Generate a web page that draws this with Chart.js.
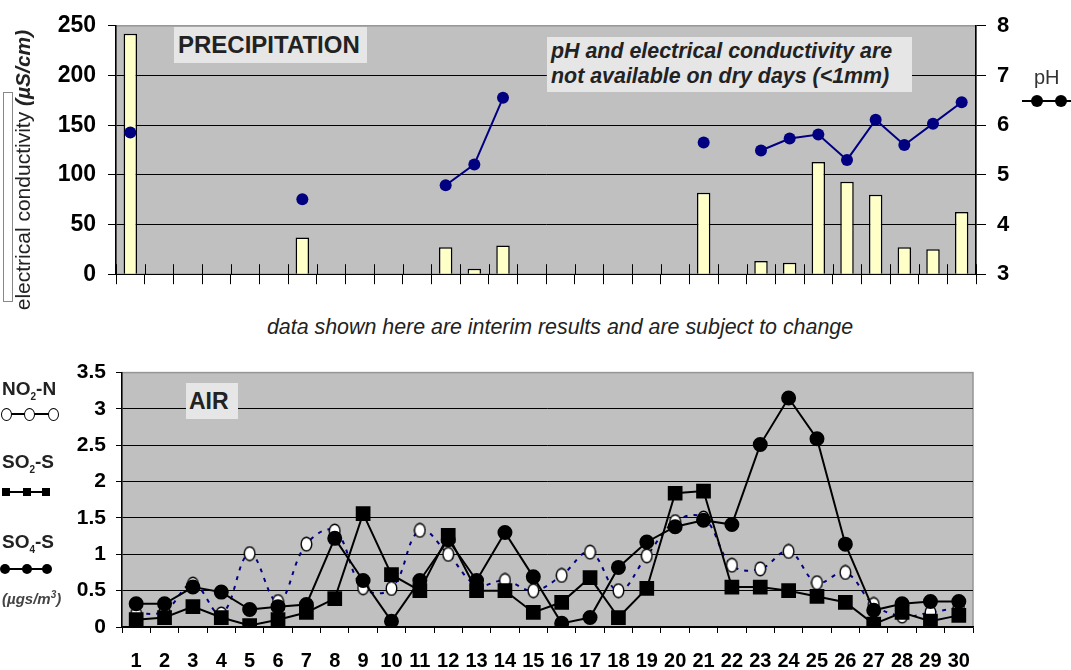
<!DOCTYPE html>
<html>
<head>
<meta charset="utf-8">
<script src="https://cdn.jsdelivr.net/npm/chart.js@4/dist/chart.umd.min.js"></script>
<style>
  body { margin: 0; background: #fff; font-family: 'Liberation Sans', Arial, sans-serif; }
  #wrap { position: relative; width: 1071px; height: 670px; overflow: hidden; }
  canvas { position: absolute; left: 0; }
  .box { position: absolute; background: #e6e6e7; color: #222; font-weight: bold; white-space: nowrap; }
  .txt { position: absolute; white-space: nowrap; color: #111; }
  .ln { position: absolute; height: 2px; background: #000; }
  .dot { position: absolute; border-radius: 50%; background: #000; }
  .sq { position: absolute; background: #000; }
  .oval { position: absolute; border-radius: 50%; background: #fff; border: 1.5px solid #000; box-sizing: border-box; }
</style>
</head>
<body>
<div id="wrap">
  <canvas id="rain" width="1071" height="300" style="top:0"></canvas>
  <canvas id="air" width="1071" height="320" style="top:350px"></canvas>

  <!-- top panel labels -->
  <div style="position:absolute;left:3px;top:92px;width:8px;height:208px;background:#fff;border:1px solid #888;"></div>
  <div class="txt" style="left:23px;top:170px;font-size:21px;color:#222;transform:translate(-50%,-50%) rotate(-90deg);">electrical conductivity <b><i>(µS/cm)</i></b></div>
  <div class="box" style="left:174px;top:27px;width:193px;height:36px;line-height:36px;font-size:24px;padding-left:4px;box-sizing:border-box;">PRECIPITATION</div>
  <div class="box" style="left:547px;top:37px;width:365px;height:55px;font-size:21.4px;font-style:italic;line-height:25px;padding:2px 0 0 4px;box-sizing:border-box;">pH and electrical conductivity are<br>not available on dry days (&lt;1mm)</div>
  <div class="txt" style="left:1034px;top:66px;font-size:20px;color:#333;">pH</div>
  <div class="ln" style="left:1022px;top:100px;width:49px;"></div>
  <div class="dot" style="left:1031px;top:95px;width:12px;height:12px;"></div>
  <div class="dot" style="left:1055px;top:95px;width:12px;height:12px;"></div>

  <div class="txt" style="left:560px;top:327px;transform:translate(-50%,-50%);font-size:21.4px;font-style:italic;color:#222;">data shown here are interim results and are subject to change</div>

  <!-- bottom panel labels -->
  <div class="box" style="left:186px;top:383px;width:52px;height:36px;line-height:36px;font-size:23px;padding-left:3px;box-sizing:border-box;">AIR</div>

  <div class="txt" style="left:2px;top:378px;font-size:19px;font-weight:bold;color:#222;">NO<sub style="font-size:10px;">2</sub>-N</div>
  <div class="ln" style="left:6px;top:413px;width:48px;"></div>
  <div class="oval" style="left:1px;top:408px;width:11px;height:13px;"></div>
  <div class="oval" style="left:24px;top:408px;width:11px;height:13px;"></div>
  <div class="oval" style="left:48px;top:408px;width:11px;height:13px;"></div>

  <div class="txt" style="left:2px;top:451px;font-size:19px;font-weight:bold;color:#222;">SO<sub style="font-size:10px;">2</sub>-S</div>
  <div class="ln" style="left:4px;top:491px;width:44px;"></div>
  <div class="sq" style="left:2px;top:488px;width:8px;height:8px;"></div>
  <div class="sq" style="left:23px;top:488px;width:8px;height:8px;"></div>
  <div class="sq" style="left:42px;top:488px;width:8px;height:8px;"></div>

  <div class="txt" style="left:2px;top:531px;font-size:19px;font-weight:bold;color:#222;">SO<sub style="font-size:10px;">4</sub>-S</div>
  <div class="ln" style="left:4px;top:568px;width:44px;"></div>
  <div class="dot" style="left:0px;top:564px;width:10px;height:10px;"></div>
  <div class="dot" style="left:22px;top:564px;width:10px;height:10px;"></div>
  <div class="dot" style="left:42px;top:564px;width:10px;height:10px;"></div>

  <div class="txt" style="left:2px;top:589px;font-size:15px;font-weight:bold;font-style:italic;color:#444;">(µgs/m<sup style="font-size:10px;">3</sup>)</div>
</div>

<script>
// days of the month
const days = ['1','2','3','4','5','6','7','8','9','10','11','12','13','14','15',
              '16','17','18','19','20','21','22','23','24','25','26','27','28','29','30'];

// precipitation panel
const conductivity = [242, null, null, null, null, null, 37, null, null, null, null, 27, 5.6, 29, null,
                      null, null, null, null, null, 82, null, 13.4, 11.4, 113, 93, 80, 27, 25, 62.5];
const phValues = [5.85, null, null, null, null, null, 4.51, null, null, null, null, 4.79, 5.21, 6.55, null,
                  null, null, null, null, null, 5.65, null, 5.49, 5.73, 5.81, 5.30, 6.11, 5.60, 6.03, 6.46];

// air panel (µgs/m3)
const no2 = [0.18, 0.22, 0.59, 0.18, 1.01, 0.35, 1.14, 1.32, 0.54, 0.53, 1.33, 1.00, 0.58, 0.64, 0.50,
             0.71, 1.03, 0.50, 0.98, 1.45, 1.50, 0.85, 0.80, 1.04, 0.61, 0.75, 0.31, 0.15, 0.20, 0.27];
const so2 = [0.10, 0.13, 0.28, 0.13, 0.02, 0.10, 0.20, 0.39, 1.56, 0.72, 0.50, 1.26, 0.50, 0.50, 0.20,
             0.34, 0.68, 0.13, 0.53, 1.84, 1.87, 0.55, 0.55, 0.50, 0.42, 0.34, 0.04, 0.20, 0.08, 0.16];
const so4 = [0.32, 0.32, 0.55, 0.48, 0.24, 0.28, 0.31, 1.22, 0.64, 0.08, 0.64, 1.20, 0.64, 1.30, 0.69,
             0.05, 0.13, 0.82, 1.17, 1.38, 1.47, 1.41, 2.51, 3.15, 2.59, 1.14, 0.23, 0.32, 0.35, 0.35];

Chart.defaults.font.family = "'Liberation Sans', Arial, sans-serif";
Chart.defaults.color = '#000';

// grey plot area with a thin border
const plotBg = {
  id: 'plotBg',
  beforeDraw(chart) {
    const { ctx, chartArea: a } = chart;
    ctx.save();
    ctx.fillStyle = '#c0c0c0';
    ctx.fillRect(a.left, a.top, a.right - a.left, a.bottom - a.top);
    ctx.strokeStyle = '#959595';
    ctx.lineWidth = 1.5;
    ctx.strokeRect(a.left, a.top, a.right - a.left, a.bottom - a.top);
    ctx.restore();
  }
};

// tick marks that cross the category axis (inner half)
const crossTicks = {
  id: 'crossTicks',
  beforeDatasetsDraw(chart) {
    const sx = chart.scales.x, ctx = chart.ctx, y0 = chart.chartArea.bottom;
    ctx.save();
    ctx.strokeStyle = '#000';
    ctx.lineWidth = 1;
    for (let i = 0; i <= sx.ticks.length; i++) {
      const px = Math.round(sx.getPixelForValue(i - 0.5)) + 0.5;
      ctx.beginPath();
      ctx.moveTo(px, y0 - 10);
      ctx.lineTo(px, y0);
      ctx.stroke();
    }
    ctx.restore();
  }
};

// open oval marker for NO2-N
const oval = document.createElement('canvas');
oval.width = 13; oval.height = 16;
(function () {
  const c = oval.getContext('2d');
  c.beginPath();
  c.ellipse(6.5, 8, 5.3, 6.8, 0, 0, Math.PI * 2);
  c.fillStyle = '#fff';
  c.fill();
  c.lineWidth = 1.4;
  c.strokeStyle = '#000';
  c.stroke();
})();

const noGridAtTop = max => c => c.tick.value === max ? 'rgba(0,0,0,0)' : '#000';

new Chart(document.getElementById('rain'), {
  type: 'bar',
  data: {
    labels: days,
    datasets: [
      {
        type: 'line', label: 'pH', data: phValues, yAxisID: 'y1',
        borderColor: '#000080', backgroundColor: '#000080', borderWidth: 2,
        pointRadius: 6, pointHoverRadius: 6, pointBorderWidth: 0, tension: 0, order: 0
      },
      {
        type: 'bar', label: 'electrical conductivity', data: conductivity, yAxisID: 'y',
        backgroundColor: '#ffffc8', borderColor: '#000', borderWidth: 1.5,
        categoryPercentage: 1, barPercentage: 0.47, order: 1
      }
    ]
  },
  options: {
    responsive: false,
    animation: false,
    events: [],
    layout: { padding: { top: 20, left: 0, right: 0, bottom: 0 }, autoPadding: false },
    plugins: { legend: { display: false }, tooltip: { enabled: false } },
    scales: {
      x: {
        offset: true,
        grid: { offset: true, drawOnChartArea: false, tickLength: 10, tickColor: '#000', color: '#000' },
        border: { color: '#000', width: 1 },
        ticks: { display: false },
        afterFit(s) { s.height = 24; }
      },
      y: {
        position: 'left', min: 0, max: 250,
        ticks: { stepSize: 50, color: '#000', font: { size: 23, weight: 'bold' }, padding: 12 },
        grid: { color: noGridAtTop(250), tickColor: '#000', tickLength: 8 },
        border: { color: '#000', width: 1.5 },
        afterFit(s) { s.width = 116; }
      },
      y1: {
        position: 'right', min: 3, max: 8,
        ticks: { stepSize: 1, color: '#000', font: { size: 22, weight: 'bold' }, padding: 11 },
        grid: { drawOnChartArea: false, tickColor: '#000', tickLength: 10 },
        border: { color: '#000', width: 1.5 },
        afterFit(s) { s.width = 95; }
      }
    }
  },
  plugins: [plotBg, crossTicks]
});

new Chart(document.getElementById('air'), {
  type: 'line',
  data: {
    labels: days,
    datasets: [
      {
        label: 'SO4-S', data: so4, borderColor: '#000', backgroundColor: '#000',
        borderWidth: 2, pointRadius: 6.5, pointHoverRadius: 6.5, pointStyle: 'circle', tension: 0, order: 1
      },
      {
        label: 'SO2-S', data: so2, borderColor: '#000', backgroundColor: '#000',
        borderWidth: 2, pointRadius: 9, pointHoverRadius: 9, pointStyle: 'rect', tension: 0, order: 2
      },
      {
        label: 'NO2-N', data: no2, borderColor: '#000080', backgroundColor: '#fff',
        borderWidth: 2, borderDash: [4, 6], pointStyle: oval, pointRadius: 7, tension: 0.4, order: 3
      }
    ]
  },
  options: {
    responsive: false,
    animation: false,
    events: [],
    layout: { padding: { top: 15, left: 0, right: 98, bottom: 0 }, autoPadding: false },
    plugins: { legend: { display: false }, tooltip: { enabled: false } },
    scales: {
      x: {
        offset: true,
        grid: { offset: true, drawOnChartArea: false, tickLength: 6, tickColor: '#000', color: '#000' },
        border: { color: '#000', width: 1.5 },
        ticks: { autoSkip: false, maxRotation: 0, color: '#000', font: { size: 20, weight: 'bold' }, padding: 16 },
        afterFit(s) { s.height = 43; }
      },
      y: {
        min: 0, max: 3.5,
        ticks: { stepSize: 0.5, callback: v => String(v), color: '#000', font: { size: 21, weight: 'bold' }, padding: 10 },
        grid: { color: noGridAtTop(3.5), tickColor: '#000', tickLength: 6 },
        border: { color: '#000', width: 1.5 },
        afterFit(s) { s.width = 122; }
      }
    }
  },
  plugins: [plotBg]
});
</script>
</body>
</html>
